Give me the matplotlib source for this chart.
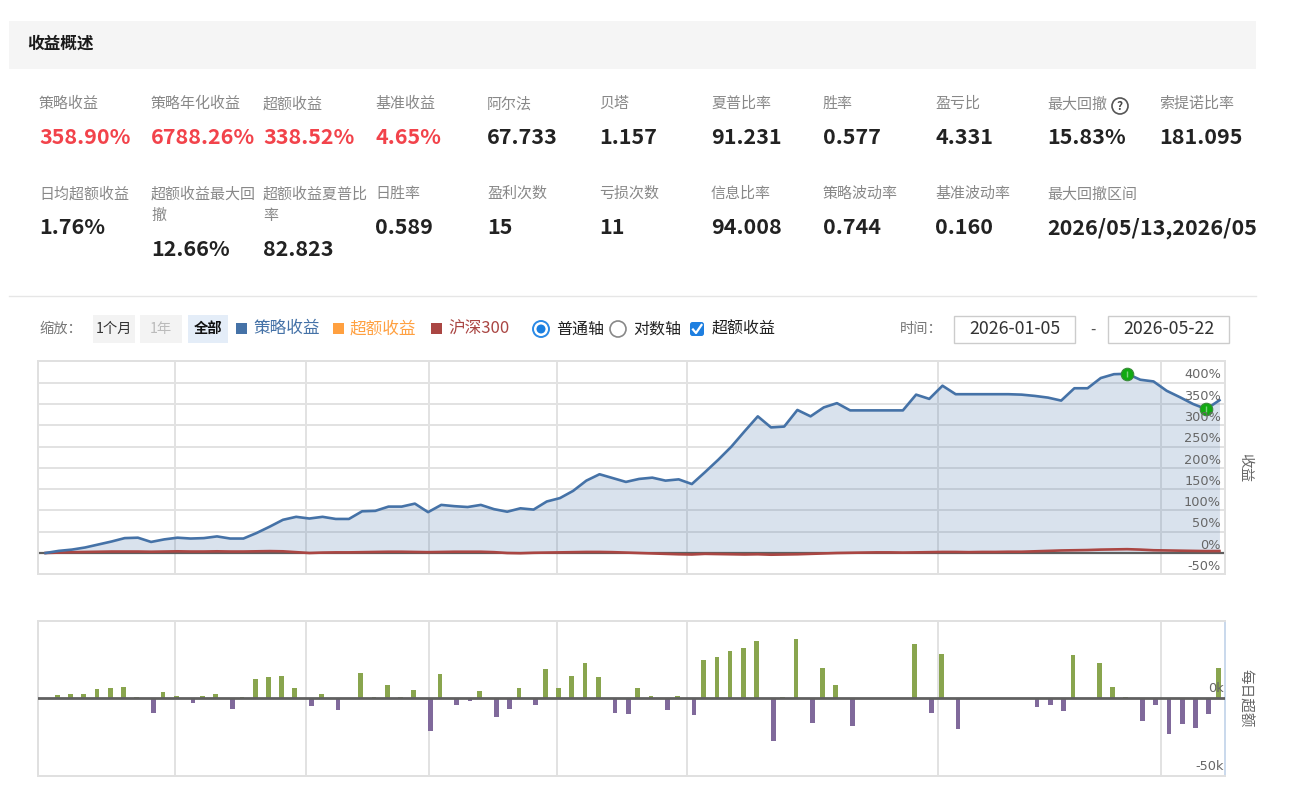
import matplotlib
matplotlib.use('Agg')
import matplotlib.pyplot as plt
from matplotlib.patches import Rectangle, Circle, FancyBboxPatch
from matplotlib.lines import Line2D
from matplotlib.transforms import blended_transform_factory, Bbox
import numpy as np

plt.rcParams['font.family'] = ['Noto Sans CJK SC', 'DejaVu Sans']

# ---------------- data ----------------
title = '收益概述'
row1_labels = ['策略收益', '策略年化收益', '超额收益', '基准收益', '阿尔法', '贝塔', '夏普比率',
               '胜率', '盈亏比', '最大回撤', '索提诺比率']
row1_values = ['358.90%', '6788.26%', '338.52%', '4.65%', '67.733', '1.157', '91.231',
               '0.577', '4.331', '15.83%', '181.095']
row2_labels = ['日均超额收益', '超额收益最大回\n撤', '超额收益夏普比\n率', '日胜率', '盈利次数', '亏损次数',
               '信息比率', '策略波动率', '基准波动率', '最大回撤区间']
row2_values = ['1.76%', '12.66%', '82.823', '0.589', '15', '11', '94.008', '0.744', '0.160',
               '2026/05/13,2026/05/21']
legend_names = ['策略收益', '超额收益', '沪深300']
date_start = '2026-01-05'
date_end = '2026-05-22'

# cumulative strategy return (%), one point per trading day
strategy = [0, 5, 8, 13, 20, 27, 35, 36, 26, 32,
            36, 34, 35, 39, 34, 34, 47, 62, 78, 85,
            81, 85, 80, 80, 98, 99, 109, 109, 116, 96,
            113, 110, 108, 113, 103, 97, 105, 102, 121, 129,
            146, 170, 185, 176, 167, 174, 177, 170, 173, 162,
            190, 219, 250, 286, 321, 295, 297, 336, 321, 342,
            352, 335, 335, 335, 335, 335, 372, 362, 393, 373,
            373, 373, 373, 373, 372, 369, 365, 358, 387, 387,
            411, 420, 421, 407, 403, 381, 366, 350, 338, 358.9]
# benchmark (HS300) cumulative return (%)
benchmark = [0, 1, 2, 2.5, 3, 3.5, 3.5, 3.5, 3, 3.5,
             4, 3.5, 3.5, 4, 3.5, 3.5, 4, 4.5, 4, 2,
             0, 1, 1.5, 1.5, 2, 2.5, 3, 3, 2.5, 2,
             2.5, 3, 3, 3, 2, 0, -0.5, 0.5, 1, 1.5,
             2, 2.5, 2.5, 2, 1, 0, -1, -2, -3, -3.5,
             -2, -2.5, -3, -3.5, -3, -4, -3.5, -3, -2, -1,
             0, 0.5, 1, 1.5, 1.5, 1, 1.5, 2, 2.5, 2.5,
             2, 2.5, 2.5, 3, 3, 4, 5, 6, 6.5, 7,
             8, 8.5, 9, 8, 6.5, 6, 5.5, 5, 4.5, 4.65]
# daily excess (k), days 1..89
daily_excess = [1.7, 2.6, 2.6, 5.3, 6.2, 6.8, 0.5, -9.6, 3.4, 1.3,
                -3.2, 1.3, 2.6, -7.3, 0.5, 11.8, 13.2, 14.1, 6.0, -5.6,
                2.6, -7.9, 0, 15.6, 0.5, 8.3, 0.5, 5.1, -21.2, 15.0,
                -4.7, -2.1, 4.3, -12.2, -7.1, 6.0, -4.7, 18.2, 6.0, 14.1,
                22.2, 13.2, -9.6, -10.5, 6.0, 0.9, -7.9, 0.9, -11.1, 23.9,
                26.3, 29.7, 32.1, 36.3, -27.8, 0.5, 37.8, -16.0, 19.0, 8.3,
                -18.2, 0, 0, 0, 0, 34.6, -9.6, 28.2, -20.3, 0,
                0, 0, 0, 0, -6.2, -4.7, -8.5, 27.1, 0, 22.4,
                6.8, 0.5, -15.0, -4.7, -23.3, -16.9, -19.2, -10.5, 19.0]
main_ticks = [-50, 0, 50, 100, 150, 200, 250, 300, 350, 400]
bar_ticks = [-50, 0]

# ---------------- layout helpers ----------------
W, H = 1306, 811
fig = plt.figure(figsize=(W / 100, H / 100), dpi=100)
fig.patch.set_facecolor('white')


def fx(x):
    return x / W


def fy(y):
    return 1 - y / H


def T(x, y, s, **kw):
    kw.setdefault('va', 'center')
    return fig.text(fx(x), fy(y), s, **kw)


def rect(x0, y0, x1, y1, **kw):
    r = Rectangle((x0 / 100, (H - y1) / 100), (x1 - x0) / 100, (y1 - y0) / 100,
                  transform=fig.dpi_scale_trans, **kw)
    fig.add_artist(r)
    return r


def circ(x, y, r, **kw):
    c = Circle((x / 100, (H - y) / 100), r / 100, transform=fig.dpi_scale_trans, **kw)
    fig.add_artist(c)
    return c


def hline(x0, x1, y, **kw):
    fig.add_artist(Line2D([fx(x0), fx(x1)], [fy(y), fy(y)], transform=fig.transFigure, **kw))


RED = '#f2434b'
DARK = '#222222'
GRAY = '#888888'
BLUE = '#4572A7'
ORANGE = '#FFA040'
BRICK = '#AA4643'
GREEN = '#89A54E'
PURPLE = '#80699B'

# ---------------- header ----------------
rect(9, 21, 1256, 69, fc='#f5f5f5', ec='none')
T(27, 44, title, fontsize=12, fontweight='bold', color='#1a1a1a')

col_x = [39 + 112 * i for i in range(11)]
for i, (lab, val) in enumerate(zip(row1_labels, row1_values)):
    T(col_x[i], 104, lab, fontsize=10.8, color=GRAY)
    T(col_x[i], 138, val, fontsize=15.5, fontweight='bold', color=RED if i < 4 else DARK)
# help icon next to 最大回撤
circ(1120, 106, 8, fc='white', ec='#555555', lw=1.2)
T(1120, 106.5, '?', fontsize=8.5, color='#444444', ha='center', fontweight='bold')

for i, (lab, val) in enumerate(zip(row2_labels, row2_values)):
    lines = lab.split('\n')
    for k, ln in enumerate(lines):
        T(col_x[i], 194 + 22 * k, ln, fontsize=10.8, color=GRAY)
    vy = 228 if len(lines) == 1 else 249
    t = T(col_x[i], vy, val, fontsize=15.5, fontweight='bold', color=DARK)
    if i == len(row2_labels) - 1:
        t.set_clip_box(Bbox([[0, 0], [1256, H]]))
        t.set_clip_on(True)

hline(9, 1256, 296, color='#e6e6e6', lw=1)

# ---------------- toolbar ----------------
TY = 329
T(39, TY, '缩放：', fontsize=10.3, color='#777777')
rect(93, 315, 135, 343, fc='#f3f3f3', ec='none')
T(114, TY, '1个月', fontsize=10.3, color='#333333', ha='center')
rect(140, 315, 182, 343, fc='#f3f3f3', ec='none')
T(161, TY, '1年', fontsize=10.3, color='#bbbbbb', ha='center')
rect(188, 315, 228, 343, fc='#e4edf8', ec='none')
T(208, TY, '全部', fontsize=10.3, color='#111111', ha='center', fontweight='bold')

leg_colors = [BLUE, ORANGE, BRICK]
leg_x = [236, 333, 431]
for name, c, lx in zip(legend_names, leg_colors, leg_x):
    rect(lx, TY - 6, lx + 11, TY + 5, fc=c, ec='none')
    T(lx + 17, TY, name, fontsize=12, color=c)

circ(541, TY, 8, fc='white', ec='#2b8ae6', lw=1.4)
circ(541, TY, 4.5, fc='#1a7fe0', ec='none')
T(556, TY, '普通轴', fontsize=11.5, color=DARK)
circ(618, TY, 8, fc='white', ec='#888888', lw=1.2)
T(633, TY, '对数轴', fontsize=11.5, color=DARK)
fig.add_artist(FancyBboxPatch(((690) / 100, (H - 336) / 100), 0.14, 0.14,
                              boxstyle='round,pad=0,rounding_size=0.025',
                              transform=fig.dpi_scale_trans, fc='#1e7fe0', ec='none'))
fig.add_artist(Line2D([fx(693), fx(696), fx(701.5)], [fy(329.5), fy(333), fy(325)],
                      transform=fig.transFigure, color='white', lw=1.6))
T(712, TY, '超额收益', fontsize=11.5, color=DARK)

T(900, TY, '时间：', fontsize=10.3, color='#777777')
rect(954, 316, 1075, 343, fc='white', ec='#cccccc', lw=1)
T(1014.5, TY, date_start, fontsize=12.8, color='#333333', ha='center')
T(1093, TY, '-', fontsize=11, color='#555555', ha='center')
rect(1108, 316, 1229, 343, fc='white', ec='#cccccc', lw=1)
T(1168.5, TY, date_end, fontsize=12.8, color='#333333', ha='center')

# ---------------- main chart ----------------
L, R = 38.3, 1225
XL = (-0.55, 89.42)
vgrid = [9.82, 19.73, 29.1, 38.76, 48.66, 67.69, 84.6]

ax = fig.add_axes([fx(L), fy(574.3), (R - L) / W, (574.3 - 361) / H])
x = np.arange(len(strategy))
s = np.array(strategy, dtype=float)
b = np.array(benchmark, dtype=float)
ax.fill_between(x, 0, s, color=BLUE, alpha=0.2, lw=0, zorder=1)
ax.axhline(0, color='#5f5f5f', lw=1.6, zorder=2)
ax.plot(x, b, color=BRICK, lw=1.9, zorder=3, solid_joinstyle='round')
ax.plot(x, s, color=BLUE, lw=1.9, zorder=4, solid_joinstyle='round')
imax = int(np.argmax(s))
imin = imax + int(np.argmin(s[imax:]))
for i in (imax, imin):
    ax.plot([i], [s[i]], 'o', ms=9, mfc='#11aa11', mec='#3a8a3a', mew=0.8, zorder=6)
    ax.plot([i], [s[i]], '|', ms=5, mec='#7fd07f', mew=1, zorder=7)
ax.set_xlim(*XL)
ax.set_ylim(-50, 451)
ax.set_xticks(vgrid)
ax.set_yticks(main_ticks)
ax.grid(True, color='#e2e2e2', lw=1.4)
ax.set_axisbelow(True)
ax.tick_params(length=0, labelleft=False, labelbottom=False)
for sp in ax.spines.values():
    sp.set_color('#e0e0e0')
    sp.set_linewidth(1.4)
tr = blended_transform_factory(ax.transAxes, ax.transData)
for v in main_ticks:
    ax.text(0.9966, v + 3, f'{v}%', transform=tr, ha='right', va='bottom',
            fontsize=9.3, color='#666666', zorder=8,
            family=['DejaVu Sans'])
T(1245, 468, '收益', fontsize=10.5, color='#666666', rotation=-90, ha='center')

# ---------------- daily excess bars ----------------
ax2 = fig.add_axes([fx(L), fy(775.7), (R - L) / W, (775.7 - 621) / H])
d = np.array(daily_excess, dtype=float)
xd = np.arange(1, len(d) + 1)
pos = d > 0
ax2.bar(xd[pos] - 0.1, d[pos], width=0.36, color=GREEN, zorder=2, lw=0)
ax2.bar(xd[~pos] + 0.17, d[~pos], width=0.36, color=PURPLE, zorder=2, lw=0)
ax2.axhline(0, color='#606060', lw=2.0, zorder=3)
ax2.set_xlim(*XL)
ax2.set_ylim(-50, 49.2)
ax2.set_xticks(vgrid)
ax2.set_yticks([])
ax2.grid(True, axis='x', color='#e2e2e2', lw=1.4)
ax2.set_axisbelow(True)
ax2.tick_params(length=0, labelleft=False, labelbottom=False)
for sp in ax2.spines.values():
    sp.set_color('#e0e0e0')
    sp.set_linewidth(1.4)
ax2.spines['right'].set_color('#c9d8ec')
tr2 = blended_transform_factory(ax2.transAxes, ax2.transData)
for v in bar_ticks:
    ax2.text(0.999, v + 1.5, f'{v}k', transform=tr2, ha='right', va='bottom',
             fontsize=9.3, color='#666666', zorder=8, family=['DejaVu Sans'])
T(1245, 698, '每日超额', fontsize=10.5, color='#666666', rotation=-90, ha='center')

fig.savefig('out.png', dpi=100, facecolor='white')
